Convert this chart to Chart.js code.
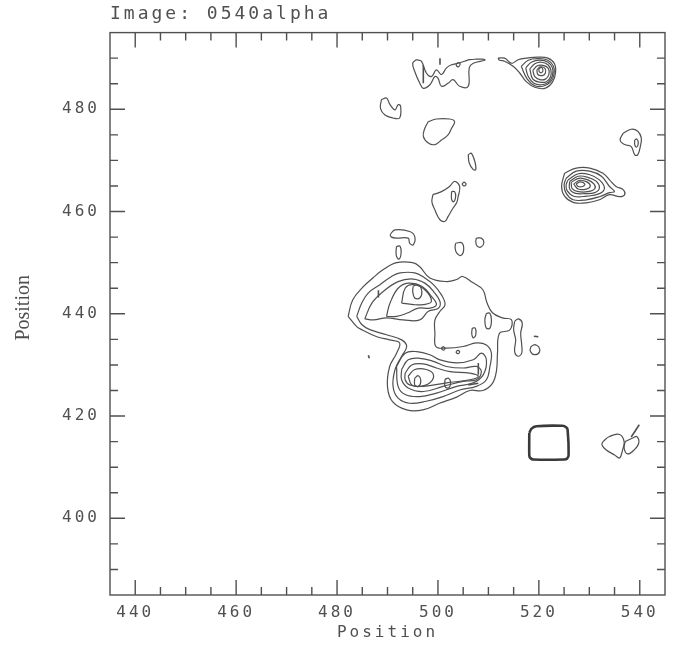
<!DOCTYPE html>
<html>
<head>
<meta charset="utf-8">
<title>0540alpha contours</title>
<script src="https://cdn.jsdelivr.net/npm/chart.js@4.4.0/dist/chart.umd.min.js"></script>
<style>
  html, body { margin: 0; padding: 0; background: #fff; }
  #wrap { width: 678px; height: 645px; position: relative; }
</style>
</head>
<body>
<div id="wrap"><canvas id="contourChart"></canvas></div>
<script>
// ===================================
// Contour map - Image: 0540alpha
// ===================================

const xTickLabels = [440, 460, 480, 500, 520, 540];
const yTickLabels = [400, 420, 440, 460, 480];

// main emission region (closed contours, [x, y])
const mainOuter = [[482.2,439.5],[483.1,442.7],[485.1,445.2],[487.1,447.0],[489.1,448.6],[491.8,450.0],[495.0,450.0],[496.4,449.2],[498.4,447.0],[501.7,446.3],[503.7,446.7],[504.9,447.3],[506.9,446.1],[508.9,444.7],[509.7,442.2],[510.8,440.2],[512.8,439.2],[514.6,438.8],[514.2,436.8],[512.2,436.2],[511.8,432.3],[511.6,428.9],[510.8,426.4],[508.9,425.0],[506.3,425.0],[503.7,423.7],[500.3,422.5],[497.0,421.2],[493.8,421.2],[491.0,422.8],[490.0,425.7],[490.4,429.6],[491.8,432.3],[492.4,434.3],[490.4,434.9],[487.9,435.5],[485.1,436.8],[483.9,437.5]];
const mainRing2 = [[483.9,439.5],[484.9,442.1],[486.2,444.1],[488.5,445.7],[490.8,447.3],[492.5,448.0],[495.4,448.0],[497.4,447.0],[499.1,445.7],[500.7,443.7],[501.4,441.8],[500.4,440.5],[499.4,438.8],[499.4,436.2],[499.6,433.6],[501.7,433.3],[505.0,433.6],[507.6,434.3],[509.6,433.9],[510.6,432.3],[510.3,429.7],[509.6,427.1],[507.6,425.8],[504.3,425.1],[501.0,423.8],[497.7,422.9],[494.4,422.5],[492.1,423.5],[491.1,425.8],[491.5,429.1],[492.8,431.7],[493.8,433.6],[492.8,434.9],[489.8,435.9],[486.5,436.9],[484.9,437.9]];
const upper3 = [[485.5,439.0],[486.9,442.1],[489.2,444.4],[492.1,446.3],[495.1,446.8],[497.4,446.0],[499.1,444.4],[500.4,442.4],[500.1,441.1],[498.1,440.5],[496.4,438.8],[493.1,438.8],[489.8,439.2],[487.2,438.8]];
const upper4 = [[489.8,439.5],[490.5,442.1],[492.1,445.0],[494.1,446.0],[496.8,445.4],[498.7,443.4],[499.7,441.8],[498.4,441.1],[496.1,441.1],[493.8,440.1],[491.8,439.5]];
const upper5 = [[492.8,442.1],[493.5,445.0],[495.1,445.7],[497.4,444.7],[498.7,442.4],[497.1,441.8],[495.1,441.8]];
const upperPeak = [[495.1,445.4],[496.1,445.7],[496.8,444.4],[496.4,443.1],[495.4,443.1],[495.0,444.4]];
const lower3 = [[491.8,429.7],[493.5,432.3],[495.8,432.6],[498.4,432.0],[500.4,431.0],[503.7,430.4],[507.0,431.0],[508.6,432.3],[509.6,431.0],[509.0,428.1],[507.0,426.5],[503.7,425.8],[499.7,424.5],[496.4,423.8],[493.5,424.2],[492.1,425.8]];
const lower4 = [[492.8,429.1],[494.1,431.0],[496.4,431.3],[499.1,430.7],[501.7,429.7],[505.0,429.4],[507.6,429.7],[508.6,428.7],[507.6,427.1],[505.0,426.8],[501.0,425.8],[497.1,424.8],[494.1,425.5],[492.8,427.1]];
const lower5 = [[493.5,428.4],[494.8,430.0],[497.1,430.2],[499.7,429.4],[502.4,428.7],[506.3,428.4],[508.0,427.8],[506.3,427.1],[501.7,426.5],[497.1,425.8],[494.4,426.1],[493.5,427.1]];
const lower6 = [[494.1,427.8],[495.4,429.1],[497.7,429.1],[499.1,428.1],[498.4,426.5],[496.4,425.8],[494.8,426.1]];
const lowerPeak = [[495.4,427.4],[496.1,427.9],[496.6,426.8],[496.1,425.8],[495.4,426.1]];
const lowerSpot = [[501.4,427.2],[502.1,427.4],[502.5,426.5],[502.1,425.5],[501.4,425.8]];

// small knots around the main region
const knotA = [[509.6,440.1],[510.3,440.1],[510.6,438.8],[510.3,437.2],[509.6,437.2],[509.3,438.8]];
const knotB = [[506.8,437.2],[507.4,437.2],[507.5,435.9],[507.0,435.3],[506.7,436.1]];
const knotC = [[515.2,438.5],[515.9,439.0],[516.7,438.2],[516.4,436.2],[516.6,433.9],[516.6,432.3],[515.9,431.7],[515.2,432.6],[515.4,434.9],[515.0,436.9]];
const knotD = [[519.2,434.0],[520.0,433.5],[520.1,432.5],[519.2,432.0],[518.4,432.5],[518.4,433.5]];
const knotE = [[501.0,433.6],[501.4,433.3],[501.1,432.9],[500.7,433.2]];
const knotF = [[503.9,432.9],[504.3,432.6],[504.0,432.2],[503.6,432.5]];
const hook = [[490.5,455.5],[491.5,456.4],[494.4,456.1],[495.4,455.1],[495.1,453.5],[494.4,453.8],[494.1,454.8],[491.8,454.8],[490.8,455.0]];
const hookOval = [[491.8,453.2],[492.5,453.2],[492.7,451.9],[492.3,450.7],[491.8,451.2],[491.7,452.2]];
const ovalN1 = [[503.5,453.8],[504.7,453.9],[505.1,452.5],[504.5,451.4],[503.7,451.9],[503.4,452.9]];
const ovalN2 = [[507.6,454.8],[508.6,454.8],[509.1,454.0],[508.6,453.1],[507.8,453.2],[507.5,454.0]];

// northern features
const topWave = [[495.7,489.7],[496.7,489.4],[497.7,487.1],[498.7,486.4],[499.7,487.7],[500.7,486.8],[501.7,488.1],[502.7,488.7],[504.0,489.0],[505.3,489.4],[506.3,489.7],[507.6,489.8],[508.9,489.8],[509.3,489.6],[507.0,489.0],[506.2,488.1],[506.0,484.5],[504.3,484.5],[503.0,485.8],[502.0,485.1],[500.7,484.5],[500.0,486.1],[499.4,486.4],[498.4,484.8],[497.1,484.1],[496.4,485.1],[495.4,487.4],[495.0,489.0]];
const topRing = [[504.0,489.2],[504.4,488.9],[504.0,488.3],[503.6,488.7]];
const north1 = [[511.9,490.0],[513.2,490.0],[514.6,489.0],[515.9,489.7],[517.5,490.0],[519.8,490.2],[521.8,490.0],[523.1,488.9],[523.3,487.1],[522.7,485.3],[521.2,484.1],[519.2,484.3],[517.5,485.4],[516.2,487.1],[514.9,488.4],[513.2,489.4],[512.2,489.6]];
const north2 = [[516.5,488.4],[517.9,489.6],[519.8,489.9],[521.8,489.6],[522.9,488.4],[523.0,486.8],[522.3,485.3],[520.8,484.5],[519.2,484.6],[517.7,485.9]];
const north3 = [[517.4,488.1],[518.5,489.2],[520.2,489.6],[521.8,489.2],[522.7,488.1],[522.7,486.6],[521.9,485.3],[520.5,484.8],[519.0,485.1],[517.9,486.4]];
const north4 = [[518.2,487.9],[519.2,488.9],[520.5,489.2],[521.8,488.7],[522.4,487.6],[522.3,486.3],[521.5,485.4],[520.2,485.3],[518.8,485.9]];
const north5 = [[518.8,487.6],[519.7,488.5],[520.8,488.6],[521.8,488.1],[522.0,486.9],[521.3,485.9],[520.2,485.8],[519.2,486.4]];
const north6 = [[519.6,487.7],[520.3,488.3],[521.2,488.0],[521.3,487.1],[520.7,486.6],[519.8,486.8]];
const north7 = [[520.0,487.9],[520.5,488.2],[520.8,487.7],[520.6,487.2],[520.1,487.3]];
const knotW = [[488.8,481.9],[489.8,482.2],[490.5,480.9],[491.5,479.9],[492.1,480.9],[492.6,480.6],[492.4,478.3],[491.1,478.3],[489.5,478.9],[488.6,480.2]];
const knotX = [[498.1,477.6],[499.7,478.1],[502.3,478.1],[503.3,477.6],[502.7,476.3],[502.0,475.0],[500.7,474.0],[499.4,473.1],[498.1,473.4],[497.1,474.7],[497.4,476.3]];
const knotY = [[506.0,471.1],[506.6,471.4],[507.3,469.8],[507.5,468.2],[507.0,468.2],[506.2,469.5]];
const knotZ = [[499.0,463.3],[500.7,463.9],[502.3,464.9],[503.3,465.9],[504.3,464.9],[504.0,462.9],[503.7,461.7],[503.0,460.7],[502.0,459.0],[501.4,458.1],[500.4,458.4],[499.4,460.3],[498.8,461.9]];
const knotZin = [[502.7,463.9],[503.3,463.9],[503.5,462.9],[503.1,461.9],[502.7,462.4]];
const knotZdot = [[505.2,465.8],[505.6,465.4],[505.2,465.0],[504.8,465.4]];

// eastern source
const east1 = [[525.1,467.5],[527.4,468.5],[530.1,468.5],[532.7,467.5],[534.0,466.2],[535.3,464.9],[536.7,464.3],[537.0,463.3],[536.0,462.9],[534.0,463.3],[532.0,462.3],[529.4,461.7],[526.8,461.8],[525.1,463.0],[524.5,464.9]];
const east2 = [[525.4,466.5],[527.4,467.9],[530.1,467.9],[532.4,466.9],[534.0,464.9],[535.0,463.9],[534.0,463.7],[532.0,462.9],[529.4,462.3],[526.8,462.3],[525.4,463.6],[525.0,465.2]];
const east3 = [[525.8,466.2],[527.8,467.4],[530.1,467.2],[532.0,466.2],[533.0,464.6],[532.0,463.5],[529.4,463.0],[526.9,463.0],[525.6,464.1],[525.4,465.2]];
const east4 = [[526.1,465.9],[527.8,466.9],[529.7,466.7],[531.4,465.9],[532.0,464.6],[531.1,463.7],[529.1,463.5],[527.1,463.6],[526.1,464.4]];
const east5 = [[526.4,465.7],[527.9,466.5],[529.7,466.2],[530.9,465.4],[531.1,464.5],[529.7,463.9],[527.8,463.9],[526.6,464.5]];
const east6 = [[526.9,465.4],[528.1,466.1],[529.5,465.8],[530.2,465.0],[529.4,464.4],[527.8,464.4]];
const east7 = [[527.4,465.4],[528.2,465.8],[529.1,465.4],[528.7,464.9],[527.8,464.9]];
const farEast = [[536.7,475.3],[538.3,476.1],[539.6,475.7],[540.3,474.4],[540.1,472.7],[539.6,471.1],[539.0,471.1],[538.3,472.7],[537.0,473.1],[536.1,474.0]];
const farEastIn = [[539.0,474.0],[539.4,474.2],[539.7,473.3],[539.3,472.6],[539.0,473.1]];

// south-east
const beam = [[518.1,416.7],[518.5,417.5],[519.5,418.0],[524.7,418.1],[525.4,417.8],[525.7,417.3],[525.9,412.4],[525.6,411.7],[525.0,411.5],[518.9,411.5],[518.3,411.8],[518.1,412.3]];
const seLeft = [[532.7,415.0],[534.0,416.0],[536.0,416.4],[536.9,415.0],[536.6,413.4],[536.0,411.8],[535.0,412.4],[533.3,413.4],[532.5,414.4]];
const seRight = [[537.1,415.0],[538.6,415.7],[539.4,416.0],[539.8,414.7],[538.9,413.4],[537.6,412.6],[536.9,413.7]];

// open strokes
const strokes = [
  [[538.3,415.9],[539.9,418.3]],
  [[497.1,488.7],[497.1,485.1]],
  [[500.4,490.0],[500.4,488.7]],
  [[488.2,444.6],[488.2,443.2]],
  [[508.0,430.4],[508.0,428.1]],
  [[506.0,426.1],[508.0,426.4]],
  [[486.2,431.9],[486.4,431.3]],
  [[519.0,435.6],[519.9,435.5]]
];

const closedContours = [mainOuter, mainRing2, upper3, upper4, upper5, upperPeak,
  lower3, lower4, lower5, lower6, lowerPeak, lowerSpot,
  knotA, knotB, knotC, knotD, knotE, knotF, hook, hookOval, ovalN1, ovalN2,
  topWave, topRing, north1, north2, north3, north4, north5, north6, north7,
  knotW, knotX, knotY, knotZ, knotZin, knotZdot,
  east1, east2, east3, east4, east5, east6, east7, farEast, farEastIn,
  seLeft, seRight];

const INK = '#505050';
const FONT = '"DejaVu Sans Mono", monospace';

function toPoints(pts, close) {
    const out = pts.map(p => ({ x: p[0], y: p[1] }));
    if (close) out.push({ x: pts[0][0], y: pts[0][1] });
    return out;
}

const datasets = [];
closedContours.forEach(c => {
    datasets.push({ data: toPoints(c, true), borderColor: INK, borderWidth: 1.2, tension: 0.4 });
});
datasets.push({ data: toPoints(beam, true), borderColor: '#3a3a3a', borderWidth: 2.6, tension: 0.2 });
strokes.forEach(s => {
    datasets.push({ data: toPoints(s, false), borderColor: INK, borderWidth: 1.6, tension: 0 });
});

// Frame with inward ticks + rotated y title
const frameTicks = {
    id: 'frameTicks',
    beforeUpdate(chart) { chart.ctx.letterSpacing = '3px'; },
    beforeDraw(chart) { chart.ctx.letterSpacing = '3px'; },
    afterDatasetsDraw(chart) {
        const { ctx, chartArea: a, scales: { x, y } } = chart;
        ctx.save();
        ctx.strokeStyle = INK;
        ctx.lineWidth = 1.4;
        ctx.strokeRect(a.left, a.top, a.right - a.left, a.bottom - a.top);
        ctx.beginPath();
        for (let v = 440; v <= 540; v += 5) {
            const px = x.getPixelForValue(v);
            const len = v % 20 === 0 ? 15 : 8;
            ctx.moveTo(px, a.bottom); ctx.lineTo(px, a.bottom - len);
            ctx.moveTo(px, a.top); ctx.lineTo(px, a.top + len);
        }
        for (let v = 390; v <= 490; v += 5) {
            const py = y.getPixelForValue(v);
            const len = v % 20 === 0 ? 15 : 8;
            ctx.moveTo(a.left, py); ctx.lineTo(a.left + len, py);
            ctx.moveTo(a.right, py); ctx.lineTo(a.right - len, py);
        }
        ctx.stroke();

        ctx.letterSpacing = '0px';
        ctx.fillStyle = INK;
        ctx.font = '20px "Liberation Serif"';
        ctx.textAlign = 'center';
        ctx.textBaseline = 'middle';
        ctx.translate(24, (a.top + a.bottom) / 2 - 6);
        ctx.rotate(-Math.PI / 2);
        ctx.fillText('Position', 0, 0);
        ctx.restore();
    }
};

new Chart(document.getElementById('contourChart'), {
    type: 'scatter',
    data: { datasets: datasets },
    plugins: [frameTicks],
    options: {
        responsive: true,
        maintainAspectRatio: false,
        animation: false,
        showLine: true,
        elements: { point: { radius: 0, hoverRadius: 0 } },
        layout: { padding: { left: 0, right: 13, top: 0, bottom: 0 } },
        plugins: {
            legend: { display: false },
            tooltip: { enabled: false },
            title: {
                display: true,
                text: 'Image: 0540alpha',
                align: 'start',
                fullSize: false,
                color: INK,
                font: { family: FONT, size: 18, weight: 'normal' },
                padding: { top: 4, bottom: 7 }
            }
        },
        scales: {
            x: {
                type: 'linear',
                min: 435,
                max: 545,
                grid: { display: false, drawTicks: false },
                border: { display: false },
                afterBuildTicks: s => { s.ticks = xTickLabels.map(v => ({ value: v })); },
                afterFit: s => { s.height = 50; },
                ticks: { color: INK, padding: 8, font: { family: FONT, size: 16 } },
                title: {
                    display: true,
                    text: 'Position',
                    color: INK,
                    font: { family: FONT, size: 16 },
                    padding: { top: 0, bottom: 3 }
                }
            },
            y: {
                type: 'linear',
                min: 385,
                max: 495,
                grid: { display: false, drawTicks: false },
                border: { display: false },
                afterBuildTicks: s => { s.ticks = yTickLabels.map(v => ({ value: v })); },
                afterFit: s => { s.width = 110; },
                ticks: { color: INK, padding: 10, font: { family: FONT, size: 16 } }
            }
        }
    }
});
</script>
</body>
</html>
